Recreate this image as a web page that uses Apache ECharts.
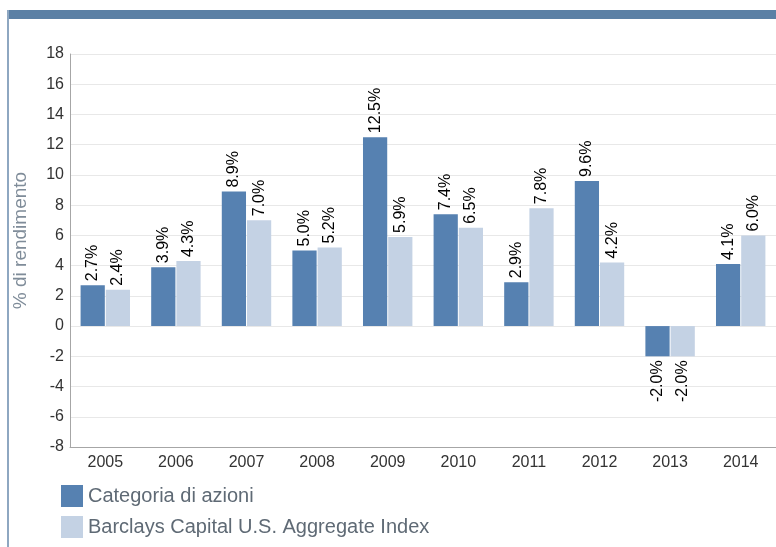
<!DOCTYPE html>
<html>
<head>
<meta charset="utf-8">
<script src="https://cdn.jsdelivr.net/npm/echarts@6/dist/echarts.min.js"></script>
<style>
  html, body { margin: 0; padding: 0; background: #fff; }
  #chart { width: 776px; height: 547px; }
</style>
</head>
<body>
<div id="chart"></div>
<script>
  var years = ['2005', '2006', '2007', '2008', '2009', '2010', '2011', '2012', '2013', '2014']
  var azioni = [2.7, 3.9, 8.9, 5.0, 12.5, 7.4, 2.9, 9.6, -2.0, 4.1]
  var barclays = [2.4, 4.3, 7.0, 5.2, 5.9, 6.5, 7.8, 4.2, -2.0, 6.0]
  var seriesNames = ['Categoria di azioni', 'Barclays Capital U.S. Aggregate Index']

  // negative bars get the label below, rotated the same way
  function toItems(values) {
    return values.map(function (v) {
      if (v < 0) {
        return {value: v, label: {position: 'bottom', align: 'right'}}
      }
      return v
    })
  }

  var barLabel = {
    show: true,
    position: 'top',
    rotate: 90,
    align: 'left',
    verticalAlign: 'middle',
    distance: 4,
    color: '#000',
    fontSize: 16,
    fontFamily: 'Liberation Sans, Arial, sans-serif',
    formatter: function (p) { return p.value.toFixed(1) + '%' }
  }

  var chart = echarts.init(document.getElementById('chart'))
  chart.setOption({
    animation: false,
    textStyle: {fontFamily: 'Liberation Sans, Arial, sans-serif'},
    graphic: [
      {type: 'rect', shape: {x: 7, y: 10, width: 769, height: 9}, style: {fill: '#5b80a5'}},
      {type: 'rect', shape: {x: 7, y: 10, width: 2, height: 537}, style: {fill: '#8ea7c1'}}
    ],
    grid: {left: 70, right: 0, top: 54, bottom: 100},
    legend: {
      orient: 'vertical',
      left: 61,
      top: 485,
      padding: 0,
      itemWidth: 22,
      itemHeight: 22,
      itemGap: 9,
      icon: 'rect',
      textStyle: {fontSize: 20, color: '#5f6a75'},
      data: seriesNames
    },
    xAxis: {
      type: 'category',
      data: years,
      axisLine: {onZero: false, lineStyle: {color: '#a6a6a6'}},
      axisTick: {show: false},
      axisLabel: {color: '#333', fontSize: 16, margin: 8}
    },
    yAxis: {
      type: 'value',
      min: -8,
      max: 18,
      interval: 2,
      name: '% di rendimento',
      nameLocation: 'middle',
      nameGap: 40,
      nameTextStyle: {color: '#7f8c99', fontSize: 19, padding: [0, 0, 0, 20]},
      axisLine: {show: true, lineStyle: {color: '#a6a6a6'}},
      axisTick: {show: false},
      axisLabel: {color: '#333', fontSize: 16, margin: 6},
      splitLine: {lineStyle: {color: '#e8e8e8'}}
    },
    series: [
      {
        name: seriesNames[0],
        type: 'bar',
        data: toItems(azioni),
        color: '#5681b1',
        barCategoryGap: '30%',
        barGap: '4%',
        label: barLabel
      },
      {
        name: seriesNames[1],
        type: 'bar',
        data: toItems(barclays),
        color: '#c4d2e4',
        barCategoryGap: '30%',
        barGap: '4%',
        label: barLabel
      }
    ]
  })
</script>
</body>
</html>
